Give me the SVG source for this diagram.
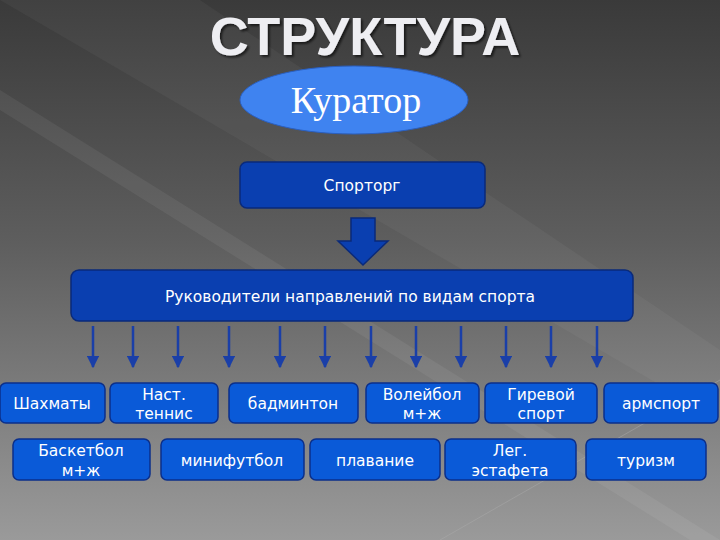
<svg xmlns="http://www.w3.org/2000/svg" width="720" height="540" viewBox="0 0 720 540">
<defs>
<linearGradient id="bg" x1="0" y1="0" x2="0" y2="1">
<stop offset="0" stop-color="#3a3a3a"/><stop offset="0.45" stop-color="#5e5e5e"/><stop offset="1" stop-color="#9a9a9a"/>
</linearGradient>
<marker id="ah" viewBox="0 0 10 10" refX="9" refY="5" markerWidth="5" markerHeight="5" orient="auto"><path d="M0,0 L10,5 L0,10 z" fill="#1a3fa8"/></marker>
<filter id="sh"><feDropShadow dx="2" dy="2" stdDeviation="1" flood-color="#000" flood-opacity="0.6"/></filter>
</defs>
<style>
.b{fill:#0a5ad8;stroke:#0b2f8a;stroke-width:1.5}
.d{fill:#0a3fb0;stroke:#0a2a7a;stroke-width:1.5}
.t{font-family:"DejaVu Sans","Liberation Sans",sans-serif;font-size:15.5px;fill:#fff;text-anchor:middle}
.c{stroke:#1a3fa8;stroke-width:2.5;marker-end:url(#ah)}
</style>
<rect width="720" height="540" fill="url(#bg)"/>
<polygon points="0,90 720,540 690,540 0,110" fill="#fff" opacity="0.06"/>
<polygon points="0,0 200,0 720,350 720,420" fill="#fff" opacity="0.04"/>
<line x1="440" y1="540" x2="720" y2="380" stroke="#aaa" stroke-width="1" opacity="0.5"/>
<text x="365" y="55" font-family="Liberation Sans,sans-serif" font-weight="bold" font-size="54" fill="#eeeef2" text-anchor="middle" filter="url(#sh)">СТРУКТУРА</text>
<g id="curator"><ellipse cx="354" cy="100" rx="114" ry="34" fill="#3f83f0" stroke="#2a5fc0"/><text x="356" y="113" font-family="Liberation Serif,serif" font-size="38" fill="#fff" text-anchor="middle">Куратор</text></g>
<g id="sportorg"><rect class="d" x="240" y="162" width="245" height="46" rx="7"/><text class="t" x="362" y="191">Спорторг</text></g>
<g id="heads"><rect class="d" x="71" y="270" width="562" height="51" rx="8"/><text class="t" x="350" y="302">Руководители направлений по видам спорта</text></g>
<g id="connectors">
<polygon points="351,218 375,218 375,241 388,241 363,265 338,241 351,241" fill="#0a3fb0" stroke="#0a2a7a" stroke-width="1.5"/>
<line class="c" x1="93" y1="326" x2="93" y2="367"/>
<line class="c" x1="133" y1="326" x2="133" y2="367"/>
<line class="c" x1="178" y1="326" x2="178" y2="367"/>
<line class="c" x1="229" y1="326" x2="229" y2="367"/>
<line class="c" x1="280" y1="326" x2="280" y2="367"/>
<line class="c" x1="325" y1="326" x2="325" y2="367"/>
<line class="c" x1="371" y1="326" x2="371" y2="367"/>
<line class="c" x1="416" y1="326" x2="416" y2="367"/>
<line class="c" x1="461" y1="326" x2="461" y2="367"/>
<line class="c" x1="506" y1="326" x2="506" y2="367"/>
<line class="c" x1="551" y1="326" x2="551" y2="367"/>
<line class="c" x1="597" y1="326" x2="597" y2="367"/>
</g>
<g id="n1"><rect class="b" x="0" y="383" width="105" height="40" rx="6"/><text class="t" x="52" y="409">Шахматы</text></g>
<g id="n2"><rect class="b" x="110" y="383" width="108" height="40" rx="6"/><text class="t" x="164" y="400">Наст.</text><text class="t" x="164" y="419">теннис</text></g>
<g id="n3"><rect class="b" x="229" y="383" width="129" height="40" rx="6"/><text class="t" x="293" y="409">бадминтон</text></g>
<g id="n4"><rect class="b" x="366" y="383" width="113" height="40" rx="6"/><text class="t" x="422" y="400">Волейбол</text><text class="t" x="422" y="419">м+ж</text></g>
<g id="n5"><rect class="b" x="485" y="383" width="112" height="40" rx="6"/><text class="t" x="541" y="400">Гиревой</text><text class="t" x="541" y="419">спорт</text></g>
<g id="n6"><rect class="b" x="604" y="383" width="114" height="40" rx="6"/><text class="t" x="661" y="409">армспорт</text></g>
<g id="n7"><rect class="b" x="13" y="439" width="137" height="41" rx="6"/><text class="t" x="81" y="456">Баскетбол</text><text class="t" x="81" y="476">м+ж</text></g>
<g id="n8"><rect class="b" x="161" y="439" width="143" height="41" rx="6"/><text class="t" x="232" y="466">минифутбол</text></g>
<g id="n9"><rect class="b" x="310" y="439" width="130" height="41" rx="6"/><text class="t" x="375" y="466">плавание</text></g>
<g id="n10"><rect class="b" x="445" y="439" width="131" height="41" rx="6"/><text class="t" x="510" y="456">Лег.</text><text class="t" x="510" y="476">эстафета</text></g>
<g id="n11"><rect class="b" x="586" y="439" width="120" height="41" rx="6"/><text class="t" x="646" y="466">туризм</text></g>
</svg>
